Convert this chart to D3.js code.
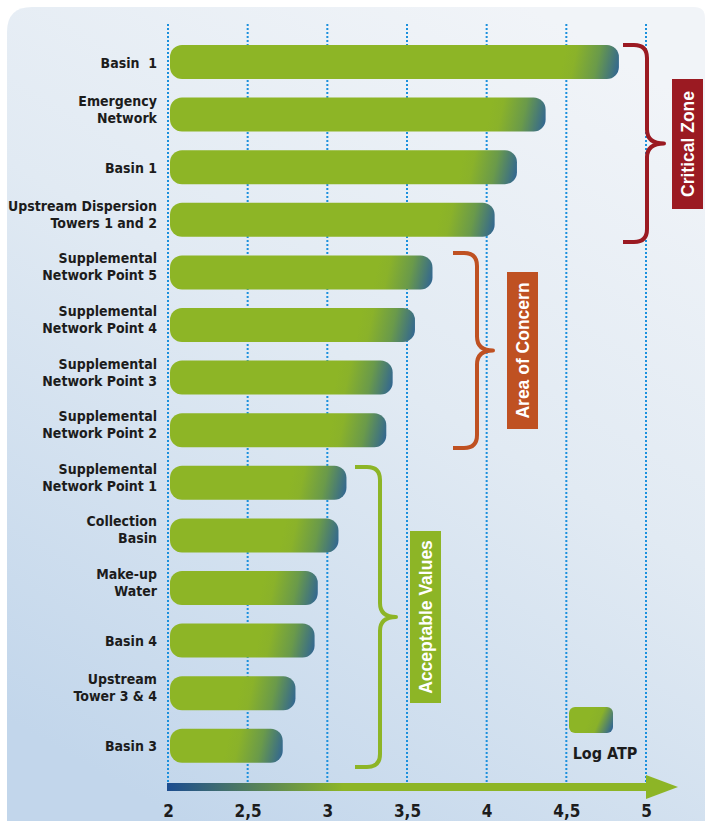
<!DOCTYPE html>
<html>
<head>
<meta charset="utf-8">
<script src="https://cdn.jsdelivr.net/npm/d3@7"></script>
<style>
  html, body { margin: 0; padding: 0; background: #ffffff; }
  svg { display: block; }
  text { white-space: pre; }
</style>
</head>
<body>
<div id="chart"></div>
<script>
// sampling points, top to bottom (each entry = lines of the label)
const categories = [
  ["Basin  1"],
  ["Emergency", "Network"],
  ["Basin 1"],
  ["Upstream Dispersion", "Towers 1 and 2"],
  ["Supplemental", "Network Point 5"],
  ["Supplemental", "Network Point 4"],
  ["Supplemental", "Network Point 3"],
  ["Supplemental", "Network Point 2"],
  ["Supplemental", "Network Point 1"],
  ["Collection", "Basin"],
  ["Make-up", "Water"],
  ["Basin 4"],
  ["Upstream", "Tower 3 & 4"],
  ["Basin 3"]
];
const logATP = [4.83, 4.37, 4.19, 4.05, 3.66, 3.55, 3.41, 3.37, 3.12, 3.07, 2.94, 2.92, 2.80, 2.72];
const tickValues = [2, 2.5, 3, 3.5, 4, 4.5, 5];
const zoneNames = ["Critical Zone", "Area of Concern", "Acceptable Values"];
const zoneColors = ["#9b1a22", "#bf5122", "#8db526"];

const width = 705, height = 821;
const svg = d3.select("#chart").append("svg")
  .attr("width", width)
  .attr("height", height);

const defs = svg.append("defs");

// panel background
const bg = defs.append("linearGradient").attr("id", "bg")
  .attr("x1", "0.75").attr("y1", "0").attr("x2", "0.25").attr("y2", "1");
bg.append("stop").attr("offset", "0").attr("stop-color", "#f1f4f8");
bg.append("stop").attr("offset", "0.45").attr("stop-color", "#e1eaf3");
bg.append("stop").attr("offset", "1").attr("stop-color", "#c2d6eb");

const p = d3.path();
p.moveTo(7, 32);
p.quadraticCurveTo(7, 7, 32, 7);
p.lineTo(694, 7);
p.quadraticCurveTo(705, 7, 705, 18);
p.lineTo(705, 821);
p.lineTo(7, 821);
p.closePath();
svg.append("path").attr("d", p.toString()).attr("fill", "url(#bg)");

const x = d3.scaleLinear().domain([2, 5]).range([168, 646]);
const y = d3.scaleBand()
  .domain(d3.range(categories.length))
  .range([35.7, 772.1])
  .paddingInner(0.354)
  .paddingOuter(0.177);

// dotted grid
svg.append("g")
  .selectAll("line")
  .data(tickValues)
  .join("line")
  .attr("x1", d => x(d)).attr("x2", d => x(d))
  .attr("y1", 24).attr("y2", 784)
  .attr("stroke", "#1b90dd")
  .attr("stroke-width", 2)
  .attr("stroke-dasharray", "2,2");

// bars, green fading to steel blue at the rounded end
const barG = svg.append("g");
logATP.forEach((v, i) => {
  const x0 = x(2) + 2, x1 = x(v);
  const top = y(i), bh = y.bandwidth();
  const g = defs.append("linearGradient").attr("id", "bar" + i)
    .attr("gradientUnits", "userSpaceOnUse")
    .attr("x1", x1 - 55).attr("y1", top + bh / 2 - 6)
    .attr("x2", x1).attr("y2", top + bh / 2 + 6);
  g.append("stop").attr("offset", "0").attr("stop-color", "#8db526");
  g.append("stop").attr("offset", "0.2").attr("stop-color", "#8ab22a");
  g.append("stop").attr("offset", "0.6").attr("stop-color", "#6a9a4a");
  g.append("stop").attr("offset", "1").attr("stop-color", "#336790");
  barG.append("rect")
    .attr("x", x0).attr("y", top)
    .attr("width", x1 - x0).attr("height", bh)
    .attr("rx", 12).attr("ry", 12)
    .attr("fill", `url(#bar${i})`);
});

// labels
const labelG = svg.append("g")
  .attr("font-family", "'DejaVu Sans Condensed', 'DejaVu Sans', sans-serif")
  .attr("font-weight", "bold")
  .attr("font-size", 14)
  .attr("fill", "#1c1c1c")
  .attr("text-anchor", "end");
categories.forEach((lines, i) => {
  const cy = y(i) + y.bandwidth() / 2;
  const t = labelG.append("text").attr("x", 157);
  if (lines.length === 1) {
    t.append("tspan").attr("x", 157).attr("y", cy + 5.5).text(lines[0]);
  } else {
    t.append("tspan").attr("x", 157).attr("y", cy - 9).text(lines[0]);
    t.append("tspan").attr("x", 157).attr("y", cy + 8).text(lines[1]);
  }
});

// braces + boxes
const braceX = [[623, 647, 664], [453, 477, 493], [355, 380, 396]];
const boxX = [[672, 703], [507, 538], [410, 441]];
const boxY = [[79, 209], [272, 429], [531, 703]];
const braceY = [[45, 242], [253, 448], [467, 767]];
zoneNames.forEach((name, k) => {
  const [tx, vx, px] = braceX[k];
  const [y0, y1] = braceY[k];
  const ym = (y0 + y1) / 2;
  const r = 13;
  const b = d3.path();
  b.moveTo(tx, y0);
  b.lineTo(vx - r, y0);
  b.quadraticCurveTo(vx, y0, vx, y0 + r);
  b.lineTo(vx, ym - 14);
  b.quadraticCurveTo(vx, ym, px, ym);
  b.quadraticCurveTo(vx, ym, vx, ym + 14);
  b.lineTo(vx, y1 - r);
  b.quadraticCurveTo(vx, y1, vx - r, y1);
  b.lineTo(tx, y1);
  svg.append("path").attr("d", b.toString())
    .attr("fill", "none")
    .attr("stroke", zoneColors[k])
    .attr("stroke-width", 4)
    .attr("stroke-linejoin", "round");

  const [bx0, bx1] = boxX[k], [by0, by1] = boxY[k];
  svg.append("rect")
    .attr("x", bx0).attr("y", by0)
    .attr("width", bx1 - bx0).attr("height", by1 - by0)
    .attr("fill", zoneColors[k]);
  const cx = (bx0 + bx1) / 2, cy = (by0 + by1) / 2;
  svg.append("text")
    .attr("transform", `translate(${cx + 6},${cy}) rotate(-90)`)
    .attr("text-anchor", "middle")
    .attr("font-family", "'Liberation Sans', Arial, sans-serif")
    .attr("font-weight", "bold")
    .attr("font-size", 17.5)
    .attr("fill", "#ffffff")
    .text(name);
});

// legend
const lg = defs.append("linearGradient").attr("id", "legend")
  .attr("gradientUnits", "userSpaceOnUse")
  .attr("x1", 590).attr("y1", 716).attr("x2", 613).attr("y2", 726);
lg.append("stop").attr("offset", "0").attr("stop-color", "#8db526");
lg.append("stop").attr("offset", "0.4").attr("stop-color", "#89b12a");
lg.append("stop").attr("offset", "1").attr("stop-color", "#336790");
svg.append("rect")
  .attr("x", 569).attr("y", 707).attr("width", 44).attr("height", 26)
  .attr("rx", 6).attr("fill", "url(#legend)");
svg.append("text")
  .attr("x", 605).attr("y", 759)
  .attr("text-anchor", "middle")
  .attr("font-family", "'DejaVu Sans Condensed', 'DejaVu Sans', sans-serif")
  .attr("font-weight", "bold")
  .attr("font-size", 16)
  .attr("fill", "#1c1c1c")
  .text("Log ATP");

// axis arrow
const ag = defs.append("linearGradient").attr("id", "arrow")
  .attr("gradientUnits", "userSpaceOnUse")
  .attr("x1", x(2)).attr("y1", 0).attr("x2", x(3.1)).attr("y2", 0);
ag.append("stop").attr("offset", "0").attr("stop-color", "#1d4d8f");
ag.append("stop").attr("offset", "1").attr("stop-color", "#8db526");
svg.append("rect")
  .attr("x", x(2) - 1).attr("y", 783)
  .attr("width", x(5) - x(2) + 2).attr("height", 8)
  .attr("fill", "url(#arrow)");
svg.append("path")
  .attr("d", `M${x(5)},775 L678,787 L${x(5)},799 Z`)
  .attr("fill", "#8db526");

// tick labels
const axis = d3.axisBottom(x)
  .tickValues(tickValues)
  .tickSize(0)
  .tickPadding(0)
  .tickFormat(d => String(d).replace(".", ","));
const ax = svg.append("g").attr("transform", "translate(0,805)").call(axis);
ax.select(".domain").remove();
ax.selectAll("text")
  .attr("dy", "0.71em")
  .attr("font-family", "'DejaVu Sans Condensed', 'DejaVu Sans', sans-serif")
  .attr("font-weight", "bold")
  .attr("font-size", 17)
  .attr("fill", "#1c1c1c");
</script>
</body>
</html>
